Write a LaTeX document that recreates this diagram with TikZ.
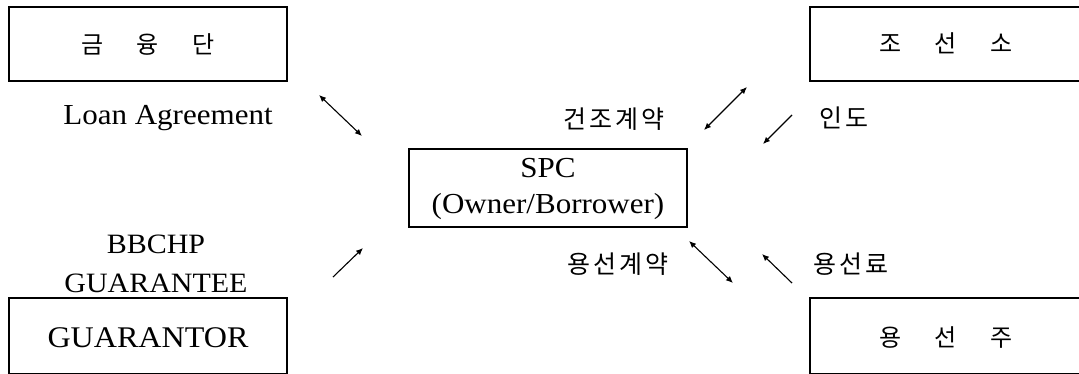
\documentclass[tikz,border=0pt]{standalone}
\usepackage{fontspec}
\setmainfont{Liberation Serif}[FakeStretch=1.07]
\newfontfamily\kr{Noto Sans CJK KR}[LetterSpace=12]
\usetikzlibrary{arrows.meta}
\tikzset{
  box/.style={draw, line width=1.3pt, rectangle, inner sep=0pt},
  lat/.style={font=\fontsize{29}{38}\selectfont, inner sep=0pt, anchor=base},
  han/.style={font=\kr\fontsize{25}{30}\selectfont, inner sep=0pt},
  tag/.style={font=\kr\fontsize{24}{28}\selectfont, inner sep=0pt},
  link/.style={line width=1.1pt, -{Latex[length=7pt,width=6pt]}},
  dlink/.style={line width=1.1pt, {Latex[length=7pt,width=6pt]}-{Latex[length=7pt,width=6pt]}},
}
\newcommand{\gap}{\hspace{33pt}}
\begin{document}
\begin{tikzpicture}[x=1pt,y=-1pt]
  \useasboundingbox (0,0) rectangle (1079,373);
  \clip (0,0) rectangle (1079,373);

  % parties
  \node[box, minimum width=278pt, minimum height=74pt] (fin) at (148,44) {};
  \node[tag] at (fin.center) {금\gap 융\gap 단};
  \node[box, minimum width=280pt, minimum height=74pt] (yard) at (950,44) {};
  \node[tag] at (946,43) {조\gap 선\gap 소};
  \node[box, minimum width=278pt, minimum height=76pt] (gtor) at (148,336) {};
  \node[lat, font=\fontsize{30}{36}\selectfont] at (148,347) {GUARANTOR};
  \node[box, minimum width=280pt, minimum height=76pt] (chart) at (950,336) {};
  \node[tag] at (946,338) {용\gap 선\gap 주};

  % owner / borrower
  \node[box, minimum width=278pt, minimum height=78pt] (spc) at (548,188) {};
  \node[lat] at (548,177) {SPC};
  \node[lat] at (548,213) {(Owner/Borrower)};

  % contract labels
  \node[lat] (loan) at (168,124) {Loan Agreement};
  \node[han] (build) at (614,119) {건조계약};
  \node[han] (deliv) at (844,118) {인도};
  \node[lat, font=\fontsize{28}{38}\selectfont] (bbchp) at (156,253) {BBCHP};
  \node[lat, font=\fontsize{28}{38}\selectfont] (guar) at (156,292) {GUARANTEE};
  \node[han] (charter) at (618,264) {용선계약};
  \node[han] (hire) at (851,264) {용선료};

  % flows
  \coordinate (a1) at (319,95);  \coordinate (a2) at (362,136);
  \coordinate (b1) at (747,87);  \coordinate (b2) at (704,130);
  \coordinate (c1) at (792,115); \coordinate (c2) at (763,144);
  \coordinate (d1) at (333,277); \coordinate (d2) at (363,248);
  \coordinate (e1) at (689,241); \coordinate (e2) at (733,283);
  \coordinate (f1) at (792,283); \coordinate (f2) at (762,254);
  \draw[dlink] (a1) -- (a2);
  \draw[dlink] (b1) -- (b2);
  \draw[link]  (c1) -- (c2);
  \draw[link]  (d1) -- (d2);
  \draw[dlink] (e1) -- (e2);
  \draw[link]  (f1) -- (f2);
\end{tikzpicture}
\end{document}
